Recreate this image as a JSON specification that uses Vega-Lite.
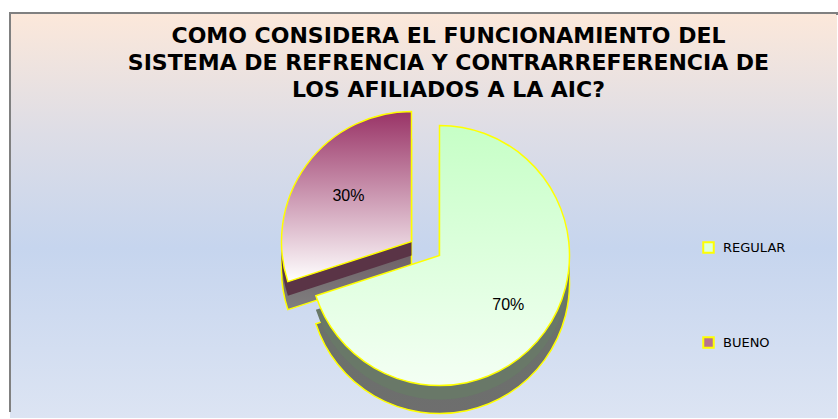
{
  "$schema": "https://vega.github.io/schema/vega-lite/v6.json",
  "width": 838,
  "height": 419,
  "autosize": {"type": "fit", "contains": "padding"},
  "padding": {"left": 9, "top": 12, "right": 0, "bottom": 0},
  "background": "#ffffff",
  "title": {
    "text": ["COMO CONSIDERA EL FUNCIONAMIENTO DEL", "SISTEMA DE REFRENCIA Y CONTRARREFERENCIA DE", "LOS AFILIADOS A LA AIC?"],
    "font": "DejaVu Sans",
    "fontWeight": "bold",
    "fontSize": 22,
    "lineHeight": 27,
    "color": "#000000",
    "anchor": "middle",
    "frame": "group",
    "baseline": "top",
    "dx": 25,
    "offset": -90
  },
  "data": {"values": [
    {"answer": "REGULAR", "value": 0.7, "order": 1},
    {"answer": "BUENO", "value": 0.3, "order": 2}
  ]},
  "transform": [
    {"stack": "value", "groupby": [], "sort": [{"field": "order", "order": "ascending"}], "as": ["v0", "v1"]}
  ],
  "layer": [
    {
      "mark": {"type": "rect",
        "fill": {"gradient": "linear", "x1": 0, "y1": 0, "x2": 0, "y2": 1,
          "stops": [
            {"offset": 0, "color": "#FCE8DA"},
            {"offset": 0.3, "color": "#DDDDE6"},
            {"offset": 0.58, "color": "#C6D5EE"},
            {"offset": 1, "color": "#DCE4F3"}
          ]},
        "stroke": "#808080", "strokeWidth": 2, "strokeDash": [829, 1236, 407, 0]},
      "encoding": {}
    },
    {
      "mark": {"type": "arc", "outerRadius": 130, "opacity": 0},
      "encoding": {
        "theta": {"field": "v0", "type": "quantitative", "scale": {"domain": [0, 1]}},
        "theta2": {"field": "v1"},
        "color": {"field": "answer", "type": "nominal",
          "scale": {"domain": ["REGULAR", "BUENO"], "range": ["#DDFFDD", "#B7728F"]},
          "legend": {"title": null, "orient": "none", "legendX": 692, "legendY": 228,
            "symbolType": "square", "symbolSize": 110, "symbolOpacity": 1,
            "symbolStrokeColor": "#FFFF00", "symbolStrokeWidth": 2,
            "labelFont": "DejaVu Sans", "labelFontSize": 13, "labelColor": "#000000",
            "rowPadding": 76, "padding": 0, "labelOffset": 8}
        }
      }
    },
    {
      "transform": [{"filter": "datum.answer === 'BUENO'"}],
      "mark": {"type": "arc", "outerRadius": 130, "xOffset": -12, "yOffset": 54,
        "fill": {"gradient": "linear", "x1": 0, "y1": 0, "x2": 0, "y2": 1,
          "stops": [{"offset": 0, "color": "#4A1F33"}, {"offset": 1, "color": "#808080"}]},
        "stroke": "#FFFF00", "strokeWidth": 1.5},
      "encoding": {
        "theta": {"field": "v0", "type": "quantitative"},
        "theta2": {"field": "v1"}
      }
    },
    {
      "transform": [{"filter": "datum.answer === 'BUENO'"}],
      "mark": {"type": "arc", "outerRadius": 130, "xOffset": -12, "yOffset": 40,
        "fill": "#5A3446"},
      "encoding": {
        "theta": {"field": "v0", "type": "quantitative"},
        "theta2": {"field": "v1"}
      }
    },
    {
      "transform": [{"filter": "datum.answer === 'BUENO'"}],
      "mark": {"type": "arc", "outerRadius": 130, "xOffset": -12, "yOffset": 26,
        "fill": {"gradient": "linear", "x1": 0, "y1": 0, "x2": 0, "y2": 1,
          "stops": [{"offset": 0, "color": "#993366"}, {"offset": 1, "color": "#FFFFFF"}]},
        "stroke": "#FFFF00", "strokeWidth": 1.5},
      "encoding": {
        "theta": {"field": "v0", "type": "quantitative"},
        "theta2": {"field": "v1"}
      }
    },
    {
      "transform": [{"filter": "datum.answer === 'REGULAR'"}],
      "mark": {"type": "arc", "outerRadius": 130, "xOffset": 16, "yOffset": 68,
        "fill": {"gradient": "linear", "x1": 0, "y1": 0, "x2": 0, "y2": 1,
          "stops": [{"offset": 0, "color": "#667A66"}, {"offset": 1, "color": "#6E6E6E"}]},
        "stroke": "#FFFF00", "strokeWidth": 1.5},
      "encoding": {
        "theta": {"field": "v0", "type": "quantitative"},
        "theta2": {"field": "v1"}
      }
    },
    {
      "transform": [{"filter": "datum.answer === 'REGULAR'"}],
      "mark": {"type": "arc", "outerRadius": 130, "xOffset": 16, "yOffset": 54,
        "fill": "#697868"},
      "encoding": {
        "theta": {"field": "v0", "type": "quantitative"},
        "theta2": {"field": "v1"}
      }
    },
    {
      "transform": [{"filter": "datum.answer === 'REGULAR'"}],
      "mark": {"type": "arc", "outerRadius": 130, "xOffset": 16, "yOffset": 40,
        "fill": {"gradient": "linear", "x1": 0, "y1": 0, "x2": 0, "y2": 1,
          "stops": [{"offset": 0, "color": "#C6FFC6"}, {"offset": 1, "color": "#F4FFF4"}]},
        "stroke": "#FFFF00", "strokeWidth": 1.5},
      "encoding": {
        "theta": {"field": "v0", "type": "quantitative"},
        "theta2": {"field": "v1"}
      }
    },
    {
      "mark": {"type": "text", "radius": 78, "xOffset": -12, "yOffset": 26,
        "font": "Liberation Sans", "fontSize": 16, "color": "#000000"},
      "encoding": {
        "theta": {"field": "value", "type": "quantitative", "stack": true},
        "order": {"field": "order", "type": "quantitative"},
        "text": {"condition": {"test": "datum.answer === 'BUENO'", "field": "value", "format": ".0%"}, "value": ""}
      }
    },
    {
      "mark": {"type": "text", "radius": 85, "xOffset": 16, "yOffset": 40,
        "font": "Liberation Sans", "fontSize": 16, "color": "#000000"},
      "encoding": {
        "theta": {"field": "value", "type": "quantitative", "stack": true},
        "order": {"field": "order", "type": "quantitative"},
        "text": {"condition": {"test": "datum.answer === 'REGULAR'", "field": "value", "format": ".0%"}, "value": ""}
      }
    }
  ]
}
